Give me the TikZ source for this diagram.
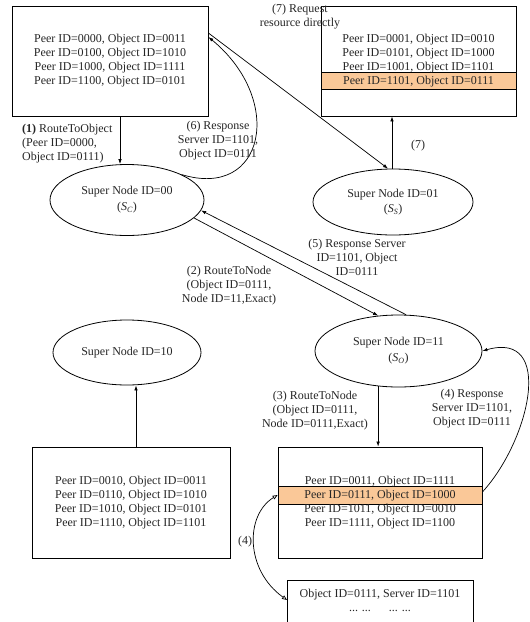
\documentclass[tikz,border=0pt]{standalone}
\usepackage{fontspec}
\setmainfont{Liberation Serif}
\usetikzlibrary{shapes.geometric,arrows.meta}
\definecolor{bandc}{RGB}{250,200,152}
\begin{document}
\begin{tikzpicture}[x=1pt,y=-1pt,
  every node/.style={font=\fontsize{12}{14}\selectfont, text=black!85},
  box/.style={draw, line width=0.8pt, align=center, inner sep=0pt},
  sn/.style={draw, ellipse, line width=0.8pt, align=center, inner sep=0pt},
  band/.style={fill=bandc, draw, line width=0.8pt, inner sep=0pt},
  lbl/.style={align=center, inner sep=0pt},
  arr/.style={line width=0.7pt, -{Latex[length=5pt,width=3.5pt]}},
  oarr/.style={line width=0.7pt, {Triangle[open,length=5pt,width=4pt]}-{Triangle[open,length=5pt,width=4pt]}}
]
\useasboundingbox[fill=white] (0,0) rectangle (530,622);

% peer boxes
\node[box, minimum width=196pt, minimum height=110pt] (tl) at (110,61)
  {Peer ID=0000, Object ID=0011\\Peer ID=0100, Object ID=1010\\Peer ID=1000, Object ID=1111\\Peer ID=1100, Object ID=0101};
\node[band, minimum width=195pt, minimum height=17pt] (trband) at (418.5,80.5) {};
\node[box, minimum width=195pt, minimum height=110pt] (tr) at (418.5,61)
  {Peer ID=0001, Object ID=0010\\Peer ID=0101, Object ID=1000\\Peer ID=1001, Object ID=1101\\Peer ID=1101, Object ID=0111};
\node[box, minimum width=198pt, minimum height=111pt] (bl) at (131,502.5)
  {Peer ID=0010, Object ID=0011\\Peer ID=0110, Object ID=1010\\Peer ID=1010, Object ID=0101\\Peer ID=1110, Object ID=1101};
\node[band, minimum width=204pt, minimum height=18pt] (brband) at (380,495) {};
\node[box, minimum width=204pt, minimum height=111pt] (br) at (380,502.5)
  {Peer ID=0011, Object ID=1111\\Peer ID=0111, Object ID=1000\\Peer ID=1011, Object ID=0010\\Peer ID=1111, Object ID=1100};
\node[box, minimum width=186pt, minimum height=60pt, anchor=north west] (sb) at (287,580) {};
\node[lbl] (sbt) at (380,600) {Object ID=0111, Server ID=1101\\... ...\quad\ \ ... ...};

% super nodes
\node[sn, minimum width=154pt, minimum height=71pt] (sc) at (127,200)
  {Super Node ID=00\\[2pt](\textit{S}\textsubscript{\textit{C}})};
\node[sn, minimum width=160pt, minimum height=66pt] (ss) at (393,202)
  {Super Node ID=01\\[1pt](\textit{S}\textsubscript{\textit{S}})};
\node[sn, minimum width=167pt, minimum height=72pt] (so) at (398.5,351)
  {Super Node ID=11\\[2pt](\textit{S}\textsubscript{\textit{O}})};
\node[sn, minimum width=148pt, minimum height=65pt] (s10) at (127,352.5)
  {Super Node ID=10};

% connectors
\draw[arr] ([xshift=10pt]tl.south) -- ([xshift=-7pt]sc.north);
\draw[arr] (sc.-15) -- (so.120);
\draw[arr] (so.-120) -- (so.-120 |- br.north);
\draw[arr] ([yshift=10.5pt]br.east) .. controls (530,440) and (555,330) .. (so.east);
\draw[oarr] ([yshift=7.5pt]br.west) .. controls (245,515) and (245,570) .. ([yshift=-20pt]sb.north west);
\draw[arr] (so.78) -- (sc.-8);
\draw[arr] (sc.25) .. controls (265,200) and (285,100) .. ([yshift=24pt]tl.east);
\draw[arr] ([yshift=28pt]tl.east) -- ([xshift=-5pt]ss.north);
\draw[arr] ([xshift=-1pt]ss.north) -- ([xshift=-1pt]ss.north |- tr.south);
\draw[arr] ([xshift=5pt]bl.north) -- ([xshift=9pt]s10.south);

% labels
\node[lbl, align=left, anchor=west] (l1) at (22,144)
  {\textbf{(1)} RouteToObject\\(Peer ID=0000,\\Object ID=0111)};
\node[lbl] (l2) at (229,286) {(2) RouteToNode\\(Object ID=0111,\\Node ID=11,Exact)};
\node[lbl] (l3) at (315,411) {(3) RouteToNode\\(Object ID=0111,\\Node ID=0111,Exact)};
\node[lbl] (l4) at (472,409) {(4) Response\\Server ID=1101,\\Object ID=0111};
\node[lbl] (l4b) at (245,542) {(4)};
\node[lbl] (l5) at (357,257) {(5) Response Server\\ID=1101, Object\\ID=0111};
\node[lbl] (l6) at (218,141) {(6) Response\\Server ID=1101,\\Object ID=0111};
\node[lbl] (l7) at (300,16.5) {(7) Request\\resource directly};
\node[lbl] (l7b) at (418,146) {(7)};
\end{tikzpicture}
\end{document}
